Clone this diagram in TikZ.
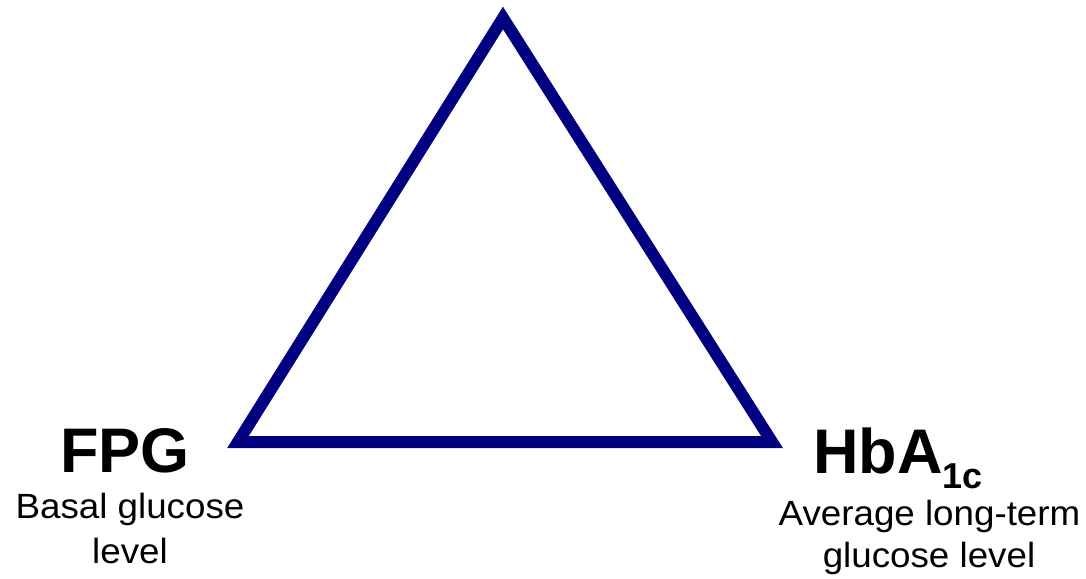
\documentclass[tikz,border=0pt]{standalone}
\usepackage{fontspec}
\newfontfamily\txtf[FakeStretch=1.05]{Liberation Sans}
\newfontfamily\hdf{Liberation Sans}
\definecolor{navytri}{HTML}{000080}
\begin{document}
\begin{tikzpicture}[x=1pt,y=-1pt,
  tri/.style={draw=navytri,line width=12pt,miter limit=10,line join=miter},
  head/.style={inner sep=0pt,font=\hdf\bfseries\fontsize{63}{63}\selectfont},
  desc/.style={inner sep=0pt,anchor=base,font=\txtf\fontsize{35}{35}\selectfont}]
\useasboundingbox (0,0) rectangle (1086,578);
\coordinate (A) at (503,18);
\coordinate (L) at (238,442);
\coordinate (R) at (772,442);
\draw[tri] (A) -- (L) -- (R) -- cycle;
\node[head,anchor=base] (fpg) at (125,472) {FPG};
\node[head,anchor=base west] (hba) at (813,473) {HbA\raisebox{-15pt}{\fontsize{36}{36}\selectfont 1c}};
\node[desc] (d1) at (130,518) {Basal glucose};
\node[desc] (d2) at (130,563) {level};
\node[desc] (d3) at (929.5,525) {Average long-term};
\node[desc] (d4) at (929,567) {glucose level};
\end{tikzpicture}
\end{document}
